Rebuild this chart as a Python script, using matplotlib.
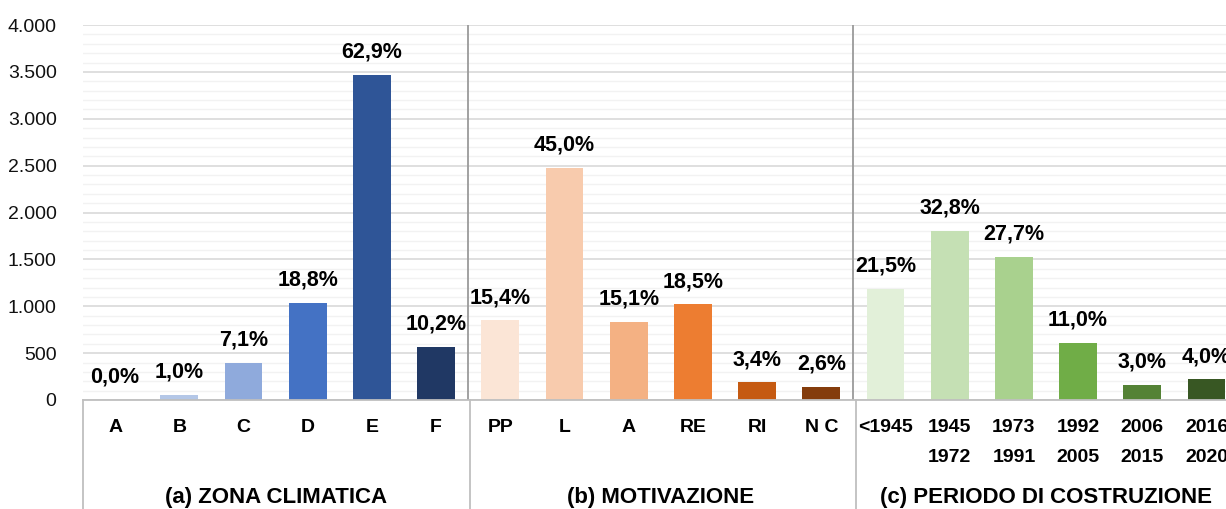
import matplotlib
matplotlib.use("Agg")
import matplotlib.pyplot as plt
from matplotlib.ticker import MultipleLocator, FuncFormatter

plt.rcParams['font.family'] = ['Liberation Sans', 'DejaVu Sans']

# data
zona_labels = ["A", "B", "C", "D", "E", "F"]
zona_values = [2, 55, 391, 1036, 3467, 562]
zona_pct = ["0,0%", "1,0%", "7,1%", "18,8%", "62,9%", "10,2%"]

motiv_labels = ["PP", "L", "A", "RE", "RI", "N C"]
motiv_values = [849, 2480, 832, 1019, 187, 143]
motiv_pct = ["15,4%", "45,0%", "15,1%", "18,5%", "3,4%", "2,6%"]

periodo_labels = ["<1945", "1945\n1972", "1973\n1991", "1992\n2005", "2006\n2015", "2016\n2020"]
periodo_values = [1185, 1807, 1526, 606, 165, 220]
periodo_pct = ["21,5%", "32,8%", "27,7%", "11,0%", "3,0%", "4,0%"]

group_titles = ["(a) ZONA CLIMATICA", "(b) MOTIVAZIONE", "(c) PERIODO DI COSTRUZIONE"]

zona_colors = ["#B4C7E7", "#B4C7E7", "#8FAADC", "#4472C4", "#2F5597", "#203864"]
motiv_colors = ["#FBE5D6", "#F8CBAD", "#F4B183", "#ED7D31", "#C55A11", "#843C0C"]
periodo_colors = ["#E2F0D9", "#C5E0B4", "#A9D18E", "#70AD47", "#548235", "#385723"]

labels = zona_labels + motiv_labels + periodo_labels
values = zona_values + motiv_values + periodo_values
pcts = zona_pct + motiv_pct + periodo_pct
colors = zona_colors + motiv_colors + periodo_colors

W, H = 1226, 509
fig = plt.figure(figsize=(W / 100, H / 100), dpi=100)
# plot area: left edge x=83, zero at y=400, 4000 at y=25, 64.2 px per category
left, bottom, top = 83, 400, 25
cell = 64.2
ax = fig.add_axes([left / W, 1 - bottom / H, 18 * cell / W, (bottom - top) / H])

x = list(range(len(values)))
ax.bar(x, values, width=0.59, color=colors, zorder=3)

for xi, v, p in zip(x, values, pcts):
    ax.annotate(p, (xi, v), xytext=(0, 12.5), textcoords="offset points",
                ha="center", va="baseline", fontsize=15.5, fontweight="bold",
                color="black", zorder=4)

ax.set_xlim(-0.5, 17.5)
ax.set_ylim(0, 4000)
ax.yaxis.set_major_locator(MultipleLocator(500))
ax.yaxis.set_minor_locator(MultipleLocator(100))
ax.yaxis.set_major_formatter(FuncFormatter(lambda v, pos: f"{int(v):,}".replace(",", ".")))
ax.grid(axis="y", which="major", color="#D9D9D9", linewidth=1.2, zorder=0)
ax.grid(axis="y", which="minor", color="#F2F2F2", linewidth=1.0, zorder=0)
ax.tick_params(axis="y", which="both", length=0, pad=19, labelsize=14, labelcolor="#111111")
ax.tick_params(axis="x", which="both", length=0, labelbottom=False)
for s in ["top", "right", "left"]:
    ax.spines[s].set_visible(False)
ax.spines["bottom"].set_color("#BFBFBF")
ax.spines["bottom"].set_linewidth(1.3)
ax.spines["bottom"].set_zorder(5)

# separators inside the plot area
for sx in [5.5, 11.5]:
    ax.axvline(sx, color="#9A9A9A", linewidth=1.3, zorder=5)

# multi-level category axis below the plot
px = 1.0 / (bottom - top)  # one pixel in axes units (vertical)
trans = ax.get_xaxis_transform()
low = -(H - bottom) * px
for sx, off in zip([-0.5, 5.5, 11.5], [0.0, 0.025, 0.04]):
    ax.plot([sx + off, sx + off], [0, low], transform=trans, color="#BFBFBF",
            linewidth=1.3, clip_on=False, zorder=5)

for xi, lab in zip(x, labels):
    for k, line in enumerate(lab.split("\n")):
        ax.text(xi, -(28 + 29 * k) * px, line, transform=trans, ha="center", va="center",
                fontsize=14, fontweight="bold", color="black")

for g, title in enumerate(group_titles):
    ax.text(6 * g + 2.5, -98 * px, title, transform=trans, ha="center", va="center",
            fontsize=16, fontweight="bold", color="black")

fig.savefig("out.png", dpi=100)
